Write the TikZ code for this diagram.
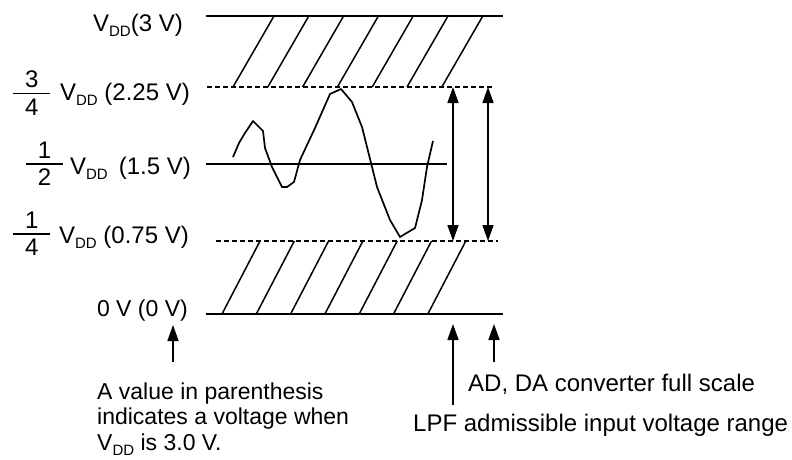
\documentclass[tikz,border=0pt]{standalone}
\usepackage{fontspec}
\setmainfont{Liberation Sans}
\usepackage{tikz}
\usetikzlibrary{arrows.meta}
\setlength{\arrayrulewidth}{1.6pt}
\newcommand{\vdd}{V\raisebox{-5pt}{\fontsize{15}{15}\selectfont DD}}
\newcommand{\vfrac}[2]{\begin{tabular}[t]{@{}c@{}}\makebox[37pt]{#1}\\[-3pt]\hline\rule{0pt}{21pt}#2\end{tabular}}

\begin{document}
\begin{tikzpicture}[x=1pt,y=-1pt,>={Triangle[length=16pt,width=11pt]},
  every node/.style={font=\fontsize{23}{25.5}\selectfont,inner sep=0pt},
  wide/.style={font=\fontsize{24}{26}\selectfont},
  lvl/.style={line width=1.7pt},
  lim/.style={line width=1.7pt,dash pattern=on 4.5pt off 3.5pt},
  hatch/.style={line width=1.5pt}]
\useasboundingbox (0,0) rectangle (792,460);
\coordinate (vddL) at (206,16);  \coordinate (vddR) at (503,16);
\coordinate (q3L) at (207,87);   \coordinate (q3R) at (493,87);
\coordinate (midL) at (206,164); \coordinate (midR) at (447,164);
\coordinate (q1L) at (216,241);  \coordinate (q1R) at (498,241);
\coordinate (gndL) at (206,314); \coordinate (gndR) at (503,314);
\draw[lvl] (vddL) -- (vddR) (midL) -- (midR) (gndL) -- (gndR);
\draw[lim] (q3L) -- (q3R) (q1L) -- (q1R);
\foreach \i in {0,...,6} {
  \draw[hatch] ({233+34.8*\i},87) -- ({274+34.8*\i},16);
  \draw[hatch] ({222+34.3*\i},314) -- ({260+34.3*\i},241);
}
\draw[lvl,line join=round] (233,157) -- (239,143) -- (245,133) -- (253,121) -- (263,131)
  -- (265,148) -- (272,167) -- (282,187) -- (287,187) -- (294,182) -- (300,160)
  -- (315,128) -- (330,94) -- (341,89) -- (352,102) -- (362,127) -- (366,143)
  -- (377,187) -- (390,220) -- (400,237) -- (415,228) -- (422,200) -- (427,167) -- (433,141);
\coordinate (lpfHi) at (453,87); \coordinate (lpfLo) at (453,241);
\coordinate (fsHi) at (488,87);  \coordinate (fsLo) at (488,241);
\draw[lvl,<->] (lpfHi) -- (lpfLo);
\draw[lvl,<->] (fsHi) -- (fsLo);
\coordinate (noteTip) at (173,325); \coordinate (noteTail) at (173,362);
\coordinate (lpfTip) at (453,324);  \coordinate (lpfTail) at (453,405);
\coordinate (fsTip) at (494,324);   \coordinate (fsTail) at (494,362);
\draw[lvl,->] (noteTail) -- (noteTip);
\draw[lvl,->] (lpfTail) -- (lpfTip);
\draw[lvl,->] (fsTail) -- (fsTip);
\node[anchor=base east,wide] (lvdd) at (183,31.7) {\vdd(3 V)};
\node[anchor=base,wide] (f34) at (31.7,88) {\vfrac{3}{4}};
\node[anchor=base east,wide] (l34) at (190,100.5) {\vdd{} (2.25 V)};
\node[anchor=base,wide] (f12) at (44.5,158.5) {\vfrac{1}{2}};
\node[anchor=base east,wide] (l12) at (191,174) {\vdd\hspace{11pt}(1.5 V)};
\node[anchor=base,wide] (f14) at (31.7,228.5) {\vfrac{1}{4}};
\node[anchor=base east,wide] (l14) at (189,243) {\vdd{} (0.75 V)};
\node[anchor=base east] (lgnd) at (188,316) {0 V (0 V)};
\node[anchor=north west,align=left] (note) at (97,382.5) {A value in parenthesis\\indicates a voltage when\\\vdd{} is 3.0 V.};
\node[anchor=base west,wide] (fs) at (468,391) {AD, DA converter full scale};
\node[anchor=base west,wide] (lpf) at (413,431) {LPF admissible input voltage range};
\end{tikzpicture}
\end{document}
